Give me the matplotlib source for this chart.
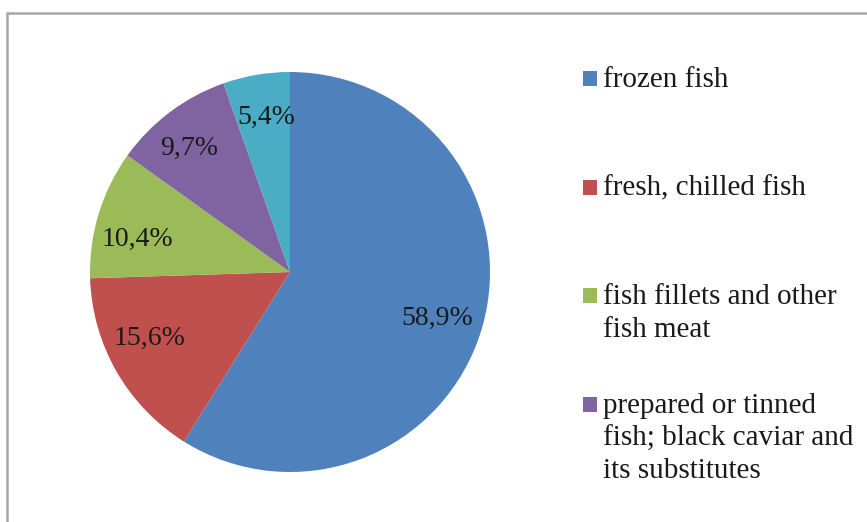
import matplotlib.pyplot as plt
import numpy as np
from matplotlib.patches import Rectangle

categories = [
    'frozen fish',
    'fresh, chilled fish',
    'fish fillets and other\nfish meat',
    'prepared or tinned\nfish; black caviar and\nits substitutes',
    'other fish products',
]
shares = [58.9, 15.6, 10.4, 9.7, 5.4]
colors = ['#4F81BD', '#C0504D', '#9BBB59', '#8064A2', '#4BACC6']
# label placement per slice (Excel "best fit"): radial distance, angular nudge in degrees
label_dist = [0.77, 0.78, 0.78, 0.80, 0.78]
label_nudge = [-1.4, -4.5, 4.7, 2.3, -0.8]
# the fifth legend entry falls below the cropped picture
n_legend_shown = 4

W, H = 867, 522
plt.rcParams['font.family'] = ['Liberation Serif', 'DejaVu Serif']

fig = plt.figure(figsize=(W / 100, H / 100), dpi=100)

# chart frame (only left and top edges fall inside the picture)
fig.patches.append(Rectangle((7 / W, -0.2), 1.5, (H - 13) / H + 0.2,
                             transform=fig.transFigure, fill=False,
                             edgecolor='#A6A6A6', linewidth=1.8))

cx, cy, r = 290, H - 272, 200
ax = fig.add_axes([(cx - r) / W, (cy - r) / H, 2 * r / W, 2 * r / H])
wedges, _ = ax.pie(shares, colors=colors, startangle=90, counterclock=False,
                   radius=1.0, wedgeprops=dict(linewidth=0))
ax.set_xlim(-1, 1)
ax.set_ylim(-1, 1)
ax.set_aspect('equal')

for w, v, d, nudge in zip(wedges, shares, label_dist, label_nudge):
    ang = np.deg2rad((w.theta1 + w.theta2) / 2 + nudge)
    ax.text(d * np.cos(ang), d * np.sin(ang), f'{v:.1f}%'.replace('.', ','),
            ha='center', va='center', fontsize=20, color='#1a1a1a')

# legend in Excel style: square marker aligned with the first line of each label
for i in range(n_legend_shown):
    base = 87 + 108.7 * i
    fig.patches.append(Rectangle((583 / W, (H - base + 1) / H), 14 / W, 15 / H,
                                 transform=fig.transFigure,
                                 facecolor=colors[i], edgecolor='none'))
    for j, line in enumerate(categories[i].split('\n')):
        fig.text(603 / W, (H - base - 32.5 * j) / H, line, ha='left',
                 va='baseline', fontsize=21, color='#1a1a1a')

fig.savefig('out.png', dpi=100)
